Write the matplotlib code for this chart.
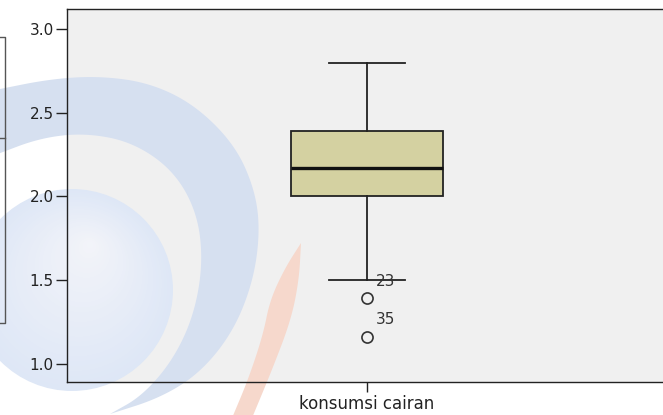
import numpy as np
import matplotlib
matplotlib.use("Agg")
import matplotlib.pyplot as plt
from matplotlib.transforms import Affine2D
from matplotlib.patches import Polygon, Circle
from matplotlib.lines import Line2D

# data
kategori = ["konsumsi cairan"]
q1 = [2.00]
median = [2.17]
q3 = [2.39]
whisker_bawah = [1.50]
whisker_atas = [2.80]
outlier = [1.39, 1.16]
outlier_id = ["23", "35"]
yticks = [1.0, 1.5, 2.0, 2.5, 3.0]

W, H = 663, 415


def halus(titik, n=4):
    # perhalus garis patah (Chaikin), ujung tetap
    p = np.asarray(titik, float)
    for _ in range(n):
        q = 0.75 * p[:-1] + 0.25 * p[1:]
        r = 0.25 * p[:-1] + 0.75 * p[1:]
        mid = np.empty((2 * len(q), 2))
        mid[0::2], mid[1::2] = q, r
        p = np.vstack([p[:1], mid, p[-1:]])
    return p


fig = plt.figure(figsize=(W / 100, H / 100), dpi=100, facecolor="white")
ax = fig.add_axes([67 / W, (H - 382) / H, 600 / W, 373 / H])
ax.set_facecolor("#f0f0f0")

# koordinat piksel gambar -> figure
px = Affine2D().scale(1 / W, -1 / H).translate(0, 1) + fig.transFigure

# watermark latar (hiasan): cakram bergradasi
tepi = np.array([0.87, 0.905, 0.965])
pusat = np.array([0.95, 0.955, 0.975])
for t in np.linspace(0, 1, 30):
    rad = 97 * (1 - t) + 4
    cx, cy = 72 + 18 * t, 290 - 45 * t
    ax.add_artist(Circle((cx, cy), rad, transform=px,
                         facecolor=tuple(tepi * (1 - t) + pusat * t),
                         edgecolor="none", zorder=0.5, clip_on=False))
luar = [(-5, 90), (50, 79), (100, 76), (150, 83), (195, 105), (235, 145), (255, 190),
        (260, 232), (253, 282), (233, 332), (200, 373), (160, 398), (110, 414)]
dalam = [(110, 414), (142, 396), (173, 360), (194, 315), (203, 262), (197, 212),
         (173, 170), (132, 142), (85, 133), (40, 138), (-5, 155)]
sabit = Polygon(np.vstack([halus(luar), halus(dalam)]), closed=True, transform=px,
                facecolor="#d6e0f0", edgecolor="none", zorder=0.6, clip_on=False)
ax.add_artist(sabit)
kiri = [(301, 243), (285, 268), (270, 300), (263, 335), (248, 380), (232, 418)]
kanan = [(252, 418), (272, 370), (291, 320), (299, 280), (301, 243)]
oranye = Polygon(np.vstack([halus(kiri), halus(kanan)]), closed=True, transform=px,
                 facecolor="#f6d8cc", edgecolor="none", zorder=0.6, clip_on=False)
ax.add_artist(oranye)
for xs, ys in [([0, 5, 5, 0], [37, 37, 323, 323]), ([0, 5], [138, 138])]:
    ax.add_artist(Line2D(xs, ys, transform=px, color="#555555", lw=1.0,
                         zorder=0.7, clip_on=False))

# boxplot
stats = [dict(med=median[i], q1=q1[i], q3=q3[i], whislo=whisker_bawah[i],
              whishi=whisker_atas[i], fliers=outlier, label=kategori[i])
         for i in range(len(kategori))]
ax.bxp(stats, positions=[1], widths=0.252, patch_artist=True, manage_ticks=False,
       boxprops=dict(facecolor="#d4d1a1", edgecolor="#222222", linewidth=1.3),
       medianprops=dict(color="#111111", linewidth=2.4),
       whiskerprops=dict(color="#222222", linewidth=1.3),
       capprops=dict(color="#222222", linewidth=1.3), capwidths=0.126,
       flierprops=dict(marker="o", markersize=8, markerfacecolor="none",
                       markeredgecolor="#333333", markeredgewidth=1.2))

for val, lab in zip(outlier, outlier_id):
    ax.annotate(lab, (1, val), xytext=(9, 17), textcoords="offset pixels",
                ha="left", va="center", fontsize=11, color="#333333")

ax.set_xlim(0.5, 1.5)
ax.set_ylim(0.89, 3.12)
ax.set_xticks([1])
ax.set_xticklabels(kategori, fontsize=12, color="#222222")
ax.set_yticks(yticks)
ax.set_yticklabels([f"{v:.1f}" for v in yticks], fontsize=11, color="#222222")
ax.tick_params(axis="y", direction="out", length=8, width=1, pad=1.5, color="#222222")
ax.tick_params(axis="x", direction="out", length=7, width=1, pad=2, color="#222222")
for s in ax.spines.values():
    s.set_color("#222222")
    s.set_linewidth(1.0)
    s.set_zorder(3)

fig.savefig("out.png", dpi=100, facecolor="white")
